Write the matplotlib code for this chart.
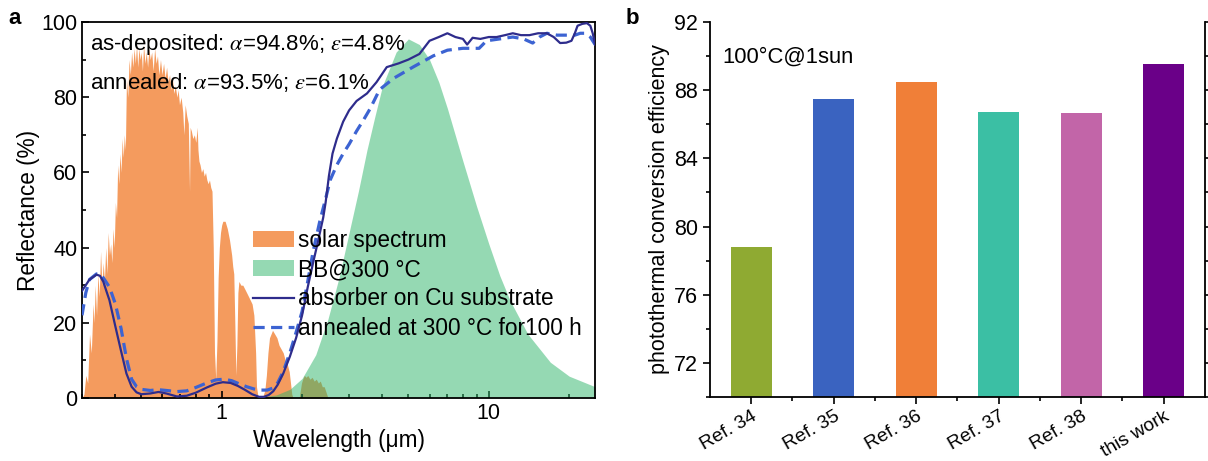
import matplotlib
matplotlib.use("Agg")
import matplotlib.pyplot as plt
import numpy as np
from matplotlib.ticker import MultipleLocator, FixedLocator, NullFormatter

plt.rcParams['font.family'] = ['Liberation Sans', 'DejaVu Sans']
plt.rcParams['mathtext.fontset'] = 'stix'

# ---- panel a data ----
solar_wl = [0.300, 0.305, 0.310, 0.315, 0.320, 0.325, 0.330, 0.333, 0.336, 0.340, 0.344, 0.348,
            0.352, 0.356, 0.360, 0.364, 0.368, 0.372, 0.376, 0.380, 0.384, 0.388, 0.392, 0.396,
            0.400, 0.404, 0.408, 0.412, 0.416, 0.420, 0.424, 0.428, 0.432, 0.436, 0.440, 0.445,
            0.450, 0.455, 0.460, 0.465, 0.470, 0.475, 0.480, 0.485, 0.490, 0.495, 0.500, 0.505,
            0.510, 0.516, 0.522, 0.528, 0.534, 0.540, 0.547, 0.554, 0.561, 0.568, 0.575, 0.582,
            0.590, 0.598, 0.606, 0.614, 0.622, 0.630, 0.638, 0.646, 0.654, 0.662, 0.670, 0.680,
            0.687, 0.695, 0.705, 0.715, 0.722, 0.730, 0.740, 0.750, 0.758, 0.762, 0.770, 0.780,
            0.790, 0.800, 0.810, 0.815, 0.822, 0.830, 0.840, 0.850, 0.860, 0.870, 0.880, 0.890,
            0.900, 0.910, 0.920, 0.930, 0.940, 0.950, 0.960, 0.970, 0.980, 0.990, 1.000, 1.010,
            1.030, 1.050, 1.070, 1.090, 1.100, 1.110, 1.120, 1.130, 1.140, 1.150, 1.160, 1.180,
            1.200, 1.220, 1.240, 1.260, 1.280, 1.300, 1.320, 1.340, 1.350, 1.370, 1.420, 1.450,
            1.470, 1.490, 1.510, 1.530, 1.550, 1.580, 1.610, 1.640, 1.670, 1.700, 1.730, 1.760,
            1.790, 1.810, 1.830, 1.850, 1.950, 1.970, 1.990, 2.010, 2.040, 2.070, 2.100, 2.140,
            2.180, 2.220, 2.260, 2.300, 2.340, 2.380, 2.420, 2.460, 2.500]
solar_val = [0, 1, 6, 4, 17, 12, 25, 20, 30, 22, 33, 27,
             39, 30, 36, 31, 40, 33, 44, 38, 41, 36, 45, 40,
             52, 48, 62, 57, 65, 60, 69, 64, 70, 66, 85, 80,
             90, 86, 92, 88, 93, 89, 94, 88, 93, 90, 92, 87,
             94, 89, 92, 88, 93, 90, 92, 87, 93, 89, 91, 86,
             90, 86, 89, 85, 88, 84, 86, 82, 85, 81, 83, 80,
             82, 78, 80, 76, 70, 78, 75, 73, 55, 72, 71, 69,
             70, 68, 72, 66, 63, 62, 60, 61, 59, 60, 58, 57,
             58, 56, 55, 40, 12, 5, 15, 32, 40, 44, 46, 47,
             47, 45, 42, 38, 35, 33, 20, 6, 14, 28, 31, 30,
             30, 29, 28, 27, 26, 25, 22, 12, 3, 0, 0, 2,
             6, 12, 16, 17, 18, 17, 16, 14, 13, 12, 10, 9,
             7, 4, 1, 0, 0, 2, 4, 5, 6, 5.5, 6, 5,
             5.5, 4.5, 5, 4, 4.5, 3, 3, 1.5, 0]

bb_wl = [1.3, 1.4, 1.6, 1.8, 2.0, 2.25, 2.5, 2.75, 3.0, 3.25, 3.5, 3.75, 4.0, 4.5, 5.0, 5.5,
         6.0, 6.5, 7.0, 8.0, 9.0, 10.0, 11.0, 12.0, 14.0, 17.0, 20.0, 25.0]
bb_val = [0, 0.2, 0.8, 2.3, 5.2, 11.5, 21, 32, 44, 55, 66, 75, 83, 92, 95.5, 94,
          90, 84, 77, 63, 51, 41, 32.5, 26, 17, 9.5, 5.8, 3]

dep_wl = [0.300, 0.320, 0.340, 0.350, 0.360, 0.380, 0.400, 0.420, 0.440, 0.460, 0.480, 0.500,
          0.540, 0.580, 0.620, 0.680, 0.740, 0.800, 0.880, 0.950, 1.010, 1.080, 1.150, 1.220,
          1.300, 1.380, 1.440, 1.500, 1.560, 1.620, 1.700, 1.800, 1.900, 2.000, 2.100, 2.200,
          2.300, 2.400, 2.450, 2.480, 2.520, 2.600, 2.700, 2.850, 3.000, 3.200, 3.500, 3.800,
          4.150, 4.600, 5.000, 5.500, 6.000, 6.500, 7.000, 7.500, 8.000, 8.300, 8.700, 9.300,
          10.0, 10.7, 11.5, 12.3, 13.2, 14.2, 15.3, 16.5, 17.5, 18.5, 19.5, 20.4, 21.0, 21.5,
          22.4, 23.3, 24.0, 24.5, 25.0]
dep_val = [28.5, 31.5, 32.8, 32.5, 31, 26, 19, 12.5, 6.5, 3, 1.5, 1.0,
           1.2, 1.6, 1.2, 0.4, 0.6, 1.4, 2.8, 3.8, 4.2, 4.0, 3.2, 2.2,
           1.0, 0.3, 0.3, 0.8, 1.8, 3.5, 6.5, 11, 16, 22, 29.5, 36,
           42, 48, 52, 55, 59, 65, 69, 73.5, 76.5, 79, 81, 84,
           88, 89, 90, 91.5, 95, 96, 97, 96, 95.5, 94, 95.8, 95.5,
           96, 96, 96.5, 97, 96.5, 96.5, 97, 97, 96, 94.4, 94.5, 95, 97, 99,
           99.5, 99.7, 99, 97, 94]

ann_wl = [0.300, 0.310, 0.320, 0.340, 0.350, 0.360, 0.380, 0.400, 0.420, 0.440, 0.460, 0.480,
          0.500, 0.540, 0.580, 0.620, 0.680, 0.740, 0.800, 0.880, 0.950, 1.020, 1.090, 1.160,
          1.240, 1.320, 1.400, 1.480, 1.550, 1.620, 1.700, 1.800, 1.900, 2.000, 2.100, 2.200,
          2.330, 2.450, 2.550, 2.700, 2.850, 3.000, 3.200, 3.400, 3.600, 3.900, 4.400, 5.200,
          6.200, 7.000, 8.000, 8.600, 9.200, 9.500, 9.800, 11.0, 12.3, 13.5, 14.6, 15.5, 16.5,
          18.0, 19.6, 21.0, 22.0, 23.0, 24.0, 24.5, 25.0]
ann_val = [22, 28, 31.5, 33, 33, 32, 29.5, 25, 18.5, 10.5, 5, 3,
           2.3, 2.0, 2.2, 2.0, 1.7, 1.9, 2.8, 4.0, 4.8, 5.0, 4.6, 3.8,
           3.0, 2.4, 2.1, 2.1, 2.6, 4.0, 7.0, 12, 17.5, 23, 31, 39,
           47, 53, 58, 62, 65, 67.5, 71, 74, 77, 82, 85, 88,
           91, 92.5, 93, 93, 93, 94, 95, 95.5, 96, 95.5, 94.4, 96, 97,
           96.5, 96.5, 96.5, 97, 97, 96, 95, 94]

# ---- panel b data ----
refs = ['Ref. 34', 'Ref. 35', 'Ref. 36', 'Ref. 37', 'Ref. 38', 'this work']
eff = [78.8, 87.5, 88.5, 86.7, 86.65, 89.55]
bar_colors = ['#8FAA32', '#3A63C0', '#F07F38', '#3BBFA4', '#C265A8', '#6A0088']

fig = plt.figure(figsize=(12.08, 4.61), dpi=100)

# ================= panel a =================
ax1 = fig.add_axes([0.0679, 0.1367, 0.4247, 0.8156])
ax1.fill_between(solar_wl, 0, solar_val, color='#F49B5E', lw=0, zorder=1, label='solar spectrum')
ax1.fill_between(bb_wl, 0, bb_val, color='#2DB469', alpha=0.5, lw=0, zorder=2, label='BB@300 \u00b0C')
ax1.plot(dep_wl, dep_val, color='#2E2C8C', lw=1.6, zorder=4, label='absorber on Cu substrate')
ax1.plot(ann_wl, ann_val, color='#3C63D2', lw=2.3, ls=(0, (3.5, 2.0)), zorder=3,
         label='annealed at 300 \u00b0C for100 h')

ax1.set_xscale('log')
ax1.set_xlim(0.3, 25)
ax1.set_ylim(0, 100)
ax1.set_xticks([1, 10])
ax1.set_xticklabels(['1', '10'])
ax1.xaxis.set_minor_locator(FixedLocator([0.3, 0.4, 0.5, 0.6, 0.7, 0.8, 0.9, 2, 3, 4, 5, 6, 7, 8, 9, 20]))
ax1.xaxis.set_minor_formatter(NullFormatter())
ax1.yaxis.set_major_locator(MultipleLocator(20))
ax1.yaxis.set_minor_locator(MultipleLocator(10))
ax1.tick_params(which='both', direction='in', labelsize=15.5, width=1.2)
ax1.tick_params(which='major', length=5)
ax1.tick_params(which='minor', length=3)
for sp in ax1.spines.values():
    sp.set_linewidth(1.3)
ax1.set_xlabel('Wavelength (\u03bcm)', fontsize=16.3, labelpad=4)
ax1.set_ylabel('Reflectance (%)', fontsize=16.3, labelpad=1)

ax1.text(0.016, 0.94, r'as-deposited: $\alpha$=94.8%; $\varepsilon$=4.8%', transform=ax1.transAxes,
         fontsize=16, va='center', ha='left', zorder=6)
ax1.text(0.016, 0.84, r'annealed: $\alpha$=93.5%; $\varepsilon$=6.1%', transform=ax1.transAxes,
         fontsize=16, va='center', ha='left', zorder=6)

leg = ax1.legend(loc='upper left', bbox_to_anchor=(0.333, 0.45), frameon=False, fontsize=16.3,
                 handlelength=1.8, handletextpad=0.2, labelspacing=0.28, borderaxespad=0,
                 borderpad=0)
leg.set_zorder(6)

fig.text(0.007, 0.96, 'a', fontsize=16, fontweight='bold', va='center')

# ================= panel b =================
ax2 = fig.add_axes([0.5877, 0.1388, 0.4098, 0.8134])
x = np.arange(len(refs))
ax2.bar(x, eff, width=0.5, color=bar_colors, bottom=0, zorder=2)
ax2.set_xlim(-0.5, len(refs) - 0.5)
ax2.set_ylim(70, 92)
ax2.set_xticks(x)
ax2.set_xticklabels(refs, rotation=30, ha='right', rotation_mode='anchor', fontsize=13.8)
ax2.xaxis.set_minor_locator(FixedLocator(x[:-1] + 0.5))
ax2.yaxis.set_major_locator(FixedLocator([72, 76, 80, 84, 88, 92]))
ax2.yaxis.set_minor_locator(FixedLocator([70, 74, 78, 82, 86, 90]))
ax2.tick_params(which='both', direction='out', width=1.2, right=True)
ax2.tick_params(axis='y', labelsize=15.5)
ax2.tick_params(axis='x', pad=3)
ax2.tick_params(which='major', length=5)
ax2.tick_params(which='minor', length=3)
ax2.spines['top'].set_visible(False)
for sp in ['left', 'bottom', 'right']:
    ax2.spines[sp].set_linewidth(1.3)
ax2.set_ylabel('photothermal conversion efficiency', fontsize=15.5, labelpad=3)
ax2.text(0.025, 0.905, '100\u00b0C@1sun', transform=ax2.transAxes, fontsize=15.8, va='center', ha='left')

fig.text(0.518, 0.96, 'b', fontsize=16, fontweight='bold', va='center')

fig.savefig('out.png', dpi=100)
